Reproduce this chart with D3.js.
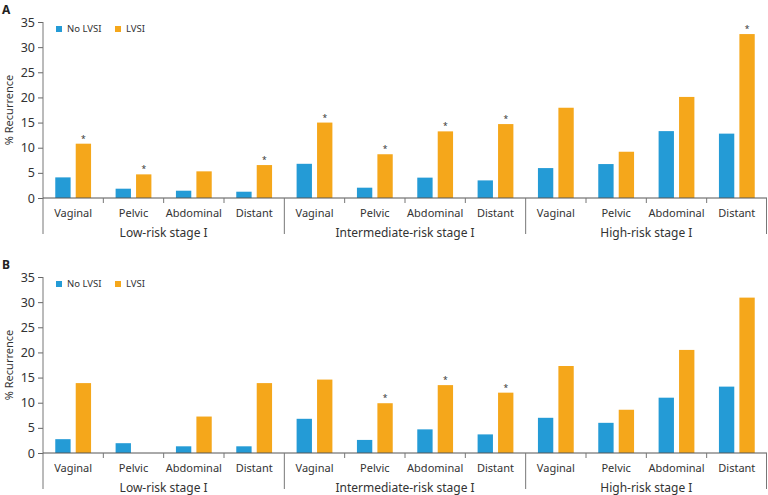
<!DOCTYPE html>
<html>
<head>
<meta charset="utf-8">
<script src="https://cdn.jsdelivr.net/npm/d3@7"></script>
<style>
body { margin: 0; background: #fff; }
svg { display: block; }
text { font-family: "Noto Sans", sans-serif; fill: #333; }
</style>
</head>
<body>
<script>
var W = 768, H = 495;

var groups = ["Low-risk stage I", "Intermediate-risk stage I", "High-risk stage I"];
var sites = ["Vaginal", "Pelvic", "Abdominal", "Distant"];
var series = ["No LVSI", "LVSI"];
var colors = ["#249bd6", "#f5a71b"];
var yTicks = [0, 5, 10, 15, 20, 25, 30, 35];

// panel A
var noLvsiA = [4.1, 1.85, 1.45, 1.25, 6.8, 2.05, 4.05, 3.5, 5.95, 6.75, 13.3, 12.8];
var lvsiA = [10.8, 4.7, 5.3, 6.55, 15.0, 8.7, 13.25, 14.7, 17.95, 9.2, 20.1, 32.6];
var starA = [1, 1, 0, 1, 1, 1, 1, 1, 0, 0, 0, 1];

// panel B
var noLvsiB = [2.75, 1.95, 1.33, 1.33, 6.8, 2.6, 4.7, 3.7, 7.0, 6.0, 11.0, 13.2];
var lvsiB = [13.9, 0, 7.25, 13.9, 14.6, 9.9, 13.5, 12.0, 17.3, 8.6, 20.5, 30.9];
var starB = [0, 0, 0, 0, 0, 1, 1, 1, 0, 0, 0, 0];

var svg = d3.select('body').append('svg')
    .attr('width', W)
    .attr('height', H);

var cats = [];
groups.forEach(function(g, gi) {
    sites.forEach(function(s) { cats.push(gi + ":" + s); });
});

var x0 = d3.scaleBand().domain(cats).range([43, 767]).paddingInner(0).paddingOuter(0);
var x1 = d3.scaleBand().domain(series).range([0, x0.bandwidth()]).paddingInner(0.25).paddingOuter(0.6);

function panel(letter, top, noL, lv, stars) {
    var y0 = top + 198, yTop = top + 22;
    var y = d3.scaleLinear().domain([0, 35]).range([y0, yTop]);
    var g = svg.append('g');

    g.append('text')
	.attr('x', 2).attr('y', top + 14)
	.attr('font-family', 'Liberation Sans, Arial, sans-serif')
	.attr('font-weight', 'bold').attr('font-size', 12)
	.style('fill', '#222')
	.text(letter);

    // y axis
    var ya = g.append('g')
	.attr('transform', 'translate(43,0)')
	.call(d3.axisLeft(y).tickValues(yTicks).tickSize(5).tickPadding(3));
    ya.select('.domain').remove();
    ya.selectAll('line').attr('stroke', '#666');
    ya.selectAll('text')
	.attr('font-family', 'Liberation Sans, Arial, sans-serif')
	.attr('font-size', 12.5)
	.style('fill', '#333');
    g.append('line')
	.attr('x1', 43).attr('x2', 43)
	.attr('y1', yTop).attr('y2', top + 234)
	.attr('stroke', '#777');

    g.append('text')
	.attr('transform', 'translate(13,' + (top + 110) + ') rotate(-90)')
	.attr('text-anchor', 'middle')
	.attr('font-size', 11)
	.text('% Recurrence');

    // bars
    var rows = cats.map(function(c, i) {
	return { cat: c, vals: [noL[i], lv[i]], star: stars[i] };
    });
    var cg = g.selectAll('.cat').data(rows).enter().append('g')
	.attr('transform', function(d) { return 'translate(' + x0(d.cat) + ',0)'; });
    cg.selectAll('rect')
	.data(function(d) { return d.vals.map(function(v, k) { return { k: k, v: v }; }); })
	.enter().append('rect')
	.attr('x', function(d) { return x1(series[d.k]); })
	.attr('width', x1.bandwidth())
	.attr('y', function(d) { return y(d.v); })
	.attr('height', function(d) { return y0 - y(d.v); })
	.attr('fill', function(d) { return colors[d.k]; });
    cg.filter(function(d) { return d.star; }).append('text')
	.attr('x', x1('LVSI') + x1.bandwidth() / 2)
	.attr('y', function(d) { return y(d.vals[1]) - 2; })
	.attr('text-anchor', 'middle')
	.attr('font-size', 8.5)
	.text('*');
    cg.append('text')
	.attr('x', x0.bandwidth() / 2)
	.attr('y', top + 217)
	.attr('text-anchor', 'middle')
	.attr('font-size', 11)
	.text(function(d) { return d.cat.split(':')[1]; });

    // x axis
    g.append('line')
	.attr('x1', 43).attr('x2', 767)
	.attr('y1', y0).attr('y2', y0)
	.attr('stroke', '#555');
    cats.forEach(function(c, i) {
	if (i == 0) return;
	var xx = x0(c);
	var grp = i % 4 == 0;
	g.append('line')
	    .attr('x1', xx).attr('x2', xx)
	    .attr('y1', y0).attr('y2', grp ? top + 234 : y0 + 5)
	    .attr('stroke', '#777');
    });
    g.append('line')
	.attr('x1', 766.5).attr('x2', 766.5)
	.attr('y1', y0).attr('y2', top + 234)
	.attr('stroke', '#777');
    groups.forEach(function(name, gi) {
	var a = x0(gi + ':' + sites[0]), b = x0(gi + ':' + sites[3]) + x0.bandwidth();
	g.append('text')
	    .attr('x', (a + b) / 2)
	    .attr('y', top + 237)
	    .attr('text-anchor', 'middle')
	    .attr('font-size', 12)
	    .text(name);
    });

    // legend
    var lx = [56, 115];
    series.forEach(function(s, k) {
	g.append('rect')
	    .attr('x', lx[k]).attr('y', top + 26)
	    .attr('width', 6).attr('height', 6)
	    .attr('fill', colors[k]);
	g.append('text')
	    .attr('x', lx[k] + 11).attr('y', top + 32)
	    .attr('font-size', 9.5)
	    .text(s);
    });
}

panel('A', 0, noLvsiA, lvsiA, starA);
panel('B', 255, noLvsiB, lvsiB, starB);
</script>
</body>
</html>
